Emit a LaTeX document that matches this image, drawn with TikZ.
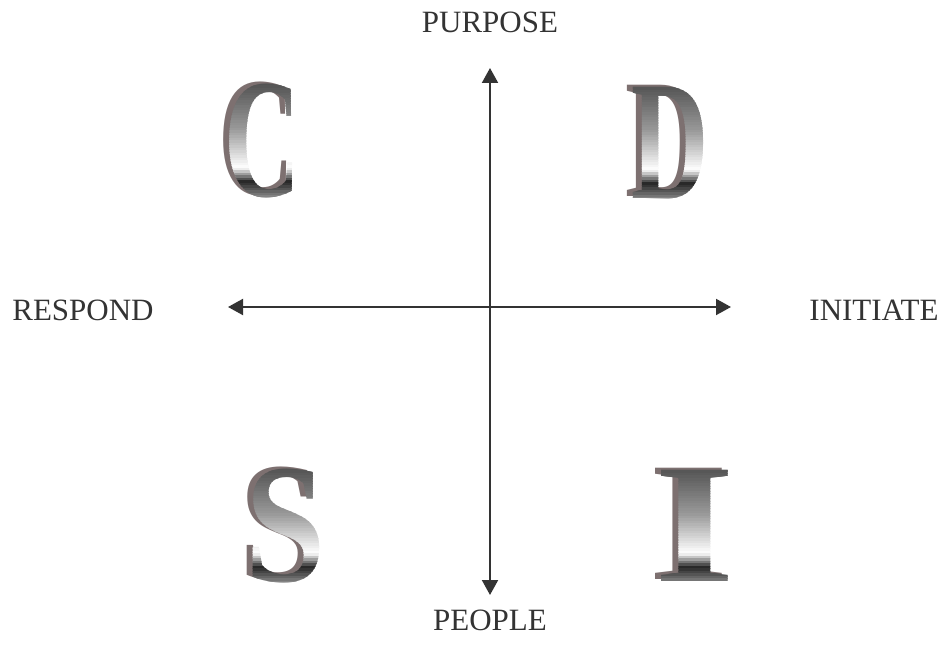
\documentclass[tikz,border=0pt]{standalone}
\usepackage{fontspec}
\setmainfont{Liberation Serif}
\usetikzlibrary{arrows.meta}
\definecolor{ink}{HTML}{333333}
\definecolor{extr}{HTML}{7D7070}
\newcommand{\bigL}{\fontsize{170}{170}\selectfont\bfseries}
% metallic letter: name, x, y, xscale, letter
\newcommand{\metalletter}[5]{%
  \node[extrude] (#1ex) at (#2-6,#3-2) {\scalebox{#4}[1]{#5}};
  \foreach \i in {0,...,45}{%
    \pgfmathsetmacro{\t}{(\i+0.5)/46}%
    \pgfmathsetmacro{\p}{\t<0.4 ? 68-28*\t/0.4 : (\t<0.74 ? 40-40*(\t-0.4)/0.34 : (\t<0.86 ? 85*(\t-0.74)/0.12 : 85-40*(\t-0.86)/0.14))}%
    \pgfmathsetmacro{\ya}{\i==0 ? #3-75 : #3-57.5+\i*2.5}%
    \pgfmathsetmacro{\yb}{\i==45 ? #3+75 : #3-57.5+(\i+1)*2.5+0.4}%
    \begin{scope}
      \clip (#2-90,\ya) rectangle (#2+90,\yb);
      \node[face, text=black!\p] (#1f\i) at (#2,#3) {\scalebox{#4}[1]{#5}};
    \end{scope}
  }%
}
\begin{document}
\begin{tikzpicture}[x=1pt, y=-1pt,
  lbl/.style={text=ink, inner sep=0pt, font=\fontsize{31}{36}\selectfont},
  axisline/.style={draw=ink, line width=2pt, {Triangle[length=15pt,width=16pt]}-{Triangle[length=15pt,width=16pt]}},
  extrude/.style={text=extr, inner sep=0pt, font=\bigL},
  face/.style={inner sep=0pt, font=\bigL}]
\useasboundingbox (0,0) rectangle (946,660);
% labels
\node[lbl] (purpose) at (490,22.5) {PURPOSE};
\node[lbl] (people) at (490,620) {PEOPLE};
\node[lbl] (respond) at (83,310) {RESPOND};
\node[lbl] (initiate) at (874,310) {INITIATE};
% axes
\coordinate (top) at (490,68);
\coordinate (bot) at (490,595);
\coordinate (left) at (228,307);
\coordinate (right) at (731,307);
\draw[axisline] (top) -- (bot);
\draw[axisline] (left) -- (right);
% letters
\metalletter{lc}{263}{141}{0.62}{C}
\metalletter{ld}{670}{143}{0.63}{D}
\metalletter{ls}{286}{526}{0.85}{S}
\metalletter{li}{695}{526}{1.22}{I}
\end{tikzpicture}
\end{document}
